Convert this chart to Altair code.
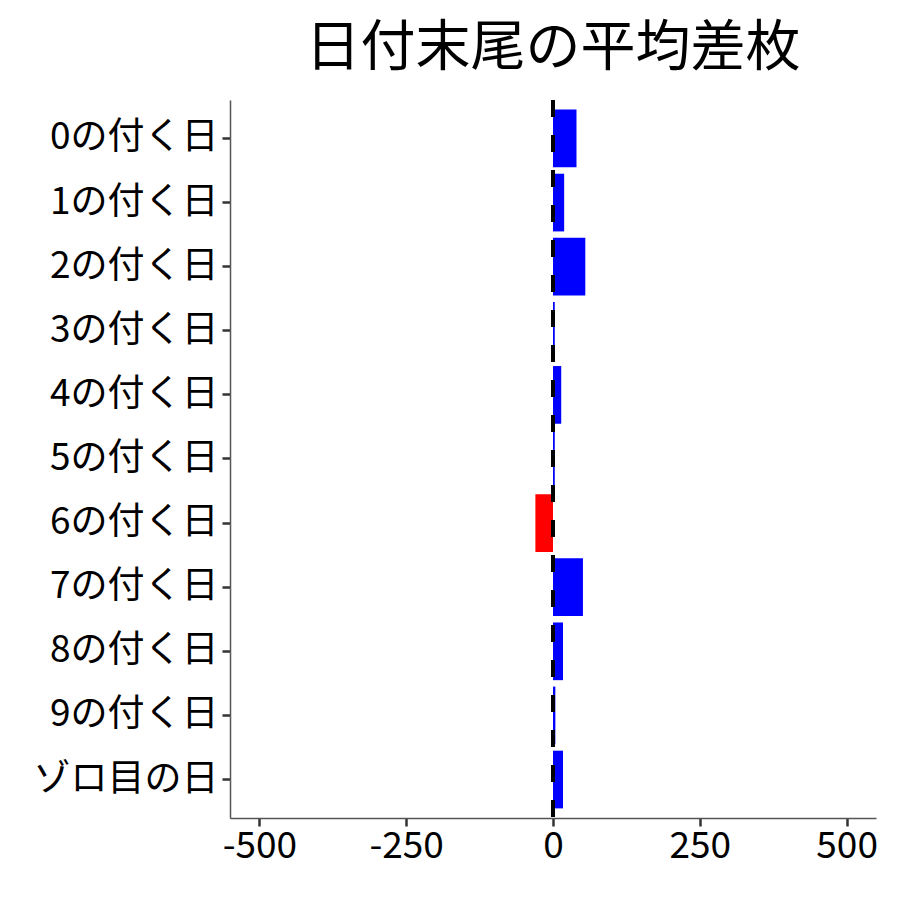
import altair as alt
import pandas as pd

categories = ["0の付く日", "1の付く日", "2の付く日", "3の付く日", "4の付く日",
              "5の付く日", "6の付く日", "7の付く日", "8の付く日", "9の付く日", "ゾロ目の日"]
values = [40, 19, 55, 3, 14, 3, -30, 51, 17, 4, 17]
x_ticks = [-500, -250, 0, 250, 500]

df = pd.DataFrame({"cat": categories, "val": values})
df["sign"] = ["pos" if v >= 0 else "neg" for v in values]

FONT = "Noto Sans CJK JP"

bars = alt.Chart(df).mark_bar().encode(
    y=alt.Y("cat:N", sort=categories,
            scale=alt.Scale(paddingInner=0.1, paddingOuter=0.15),
            axis=alt.Axis(title=None, labelFont=FONT, labelFontSize=37, labelColor="black",
                          labelPadding=4, labelLimit=400, tickSize=8, tickWidth=2.5,
                          tickColor="#333333", domainColor="#555555", domainWidth=1.5,
                          grid=False)),
    x=alt.X("val:Q", scale=alt.Scale(domain=[-550, 550], nice=False, zero=False),
            axis=alt.Axis(title=None, values=x_ticks, labelFont=FONT, labelFontSize=37,
                          labelColor="black", labelPadding=2, tickSize=8, tickWidth=2.5,
                          tickColor="#333333", domainColor="#555555", domainWidth=1.5,
                          grid=False, labelExpr="'' + datum.value", labelFlush=False)),
    color=alt.Color("sign:N", scale=alt.Scale(domain=["pos", "neg"], range=["#0000FF", "#FF0000"]),
                    legend=None),
)

zero_df = pd.DataFrame({"x": [0]})
rule = alt.Chart(zero_df).mark_rule(color="black", strokeWidth=4, strokeDash=[17, 18]).encode(
    x="x:Q"
)

chart = alt.layer(bars, rule).properties(
    width=646, height=718,
    background="white",
    autosize=alt.AutoSizeParams(type="none"),
    padding={"left": 222, "top": 92, "right": 16, "bottom": 74},
    title=alt.TitleParams("日付末尾の平均差枚", font=FONT, fontSize=55, fontWeight="normal",
                          color="black", anchor="middle", offset=21),
).configure_view(stroke=None, strokeWidth=0)

chart.save("out.html", embed_options={"renderer": "svg", "actions": False})
